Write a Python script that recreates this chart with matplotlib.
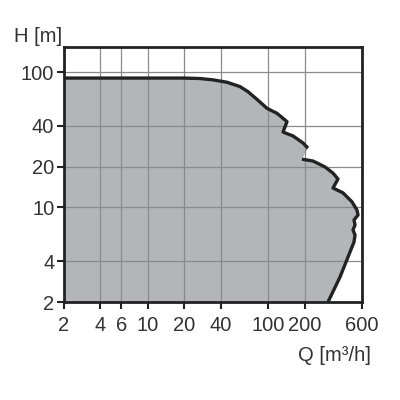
import matplotlib
matplotlib.use('Agg')
import matplotlib.pyplot as plt
from matplotlib.ticker import FixedLocator, NullLocator

plt.rcParams['font.family'] = ['Liberation Sans', 'DejaVu Sans']

# upper curve section (Q in m3/h, H in m)
q_top = [2, 20, 27.0, 34.6, 45.3, 58.1, 67.7, 80.4, 97.4, 118, 142.8, 132.3, 160.2, 194, 213.4]
h_top = [90.2, 90.2, 89.5, 87.5, 84.0, 78.0, 71.5, 62.8, 53.9, 49.5, 43.0, 36, 33.7, 29.9, 27.4]
# lower curve section
q_low = [190.2, 234.9, 295.5, 344.5, 379, 344.5, 417, 495, 545, 556, 515, 525, 505, 525, 515, 459, 394, 313]
h_low = [22.7, 22.0, 19.9, 17.9, 16.2, 13.9, 12.8, 11.0, 9.56, 8.78, 8.07, 7.41, 6.81, 6.25, 5.55, 4.30, 3.06, 2]

x_ticks = [2, 4, 6, 10, 20, 40, 100, 200, 600]
y_ticks = [2, 4, 10, 20, 40, 100]

fig = plt.figure(figsize=(4, 4), dpi=100)
ax = fig.add_axes([0.16, 0.245, 0.745, 0.6375])

ax.set_xscale('log')
ax.set_yscale('log')
ax.set_xlim(2, 600)
ax.set_ylim(2, 153)

ax.fill(q_top + q_low + [2], h_top + h_low + [2], color='#b4b5b9', lw=0, zorder=1)
ax.plot(q_top, h_top, color='#222222', lw=2.4, solid_capstyle='butt',
        solid_joinstyle='round', zorder=3)
ax.plot(q_low, h_low, color='#222222', lw=2.4, solid_capstyle='butt',
        solid_joinstyle='round', zorder=3)

ax.xaxis.set_major_locator(FixedLocator(x_ticks))
ax.yaxis.set_major_locator(FixedLocator(y_ticks))
ax.xaxis.set_minor_locator(NullLocator())
ax.yaxis.set_minor_locator(NullLocator())
ax.set_xticklabels([str(v) for v in x_ticks])
ax.set_yticklabels([str(v) for v in y_ticks])
ax.tick_params(axis='both', length=5, width=1.5, labelsize=14.5, color='#222222',
               labelcolor='#333333', pad=2)
ax.tick_params(axis='x', pad=5)
ax.grid(True, color='#8a8a8a', lw=0.9, zorder=2)
ax.set_axisbelow(False)
for s in ax.spines.values():
    s.set_linewidth(2)
    s.set_color('#222222')
    s.set_zorder(4)

fig.text(0.155, 0.91, 'H [m]', ha='right', va='center', fontsize=14.5, color='#333333')
fig.text(0.928, 0.112, 'Q [m³/h]', ha='right', va='center', fontsize=14.5, color='#333333')

fig.savefig('out.png', dpi=100)
